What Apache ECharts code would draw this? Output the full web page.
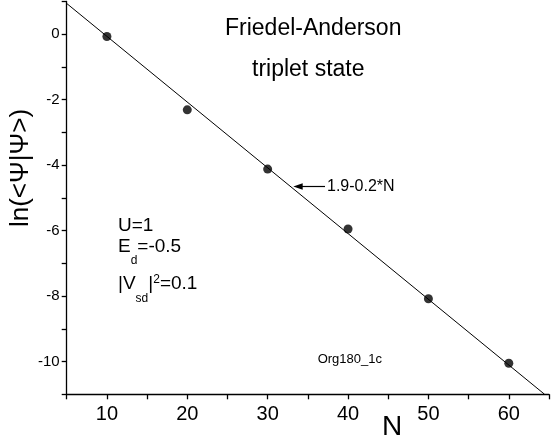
<!DOCTYPE html>
<html>
<head>
<meta charset="utf-8">
<script src="https://cdn.jsdelivr.net/npm/echarts@6/dist/echarts.min.js"></script>
<style>
  html, body { margin: 0; padding: 0; background: #fff; }
  #chart { width: 552px; height: 443px; }
</style>
</head>
<body>
<div id="chart"></div>
<script>
// measured points
const nValues = [10, 20, 30, 40, 50, 60];
const lnPsi = [-0.07, -2.31, -4.12, -5.95, -8.08, -10.05];
// fitted line 1.9-0.2*N, end points
const fitN = [5, 64.45];
const fitLn = [0.94, -11.0];

const FONT = '"Liberation Sans", Arial, sans-serif';

const chart = echarts.init(document.getElementById("chart"), null, { renderer: "canvas" });

const axisLine = { show: true, onZero: false, lineStyle: { color: "#000", width: 1.3 } };
const axisTick = { show: true, inside: false, length: 5, lineStyle: { color: "#000", width: 1.3 } };

const option = {
  backgroundColor: "#fff",
  animation: false,
  grid: { left: 66.7, right: -2.5, top: 1.5, bottom: 48.7 },
  xAxis: {
    type: "value",
    min: 5,
    max: 65,
    interval: 5,
    axisLine: axisLine,
    axisTick: axisTick,
    splitLine: { show: false },
    axisLabel: {
      margin: 10,
      color: "#000",
      fontFamily: FONT,
      fontSize: 20,
      formatter: (v) => (v % 10 === 0 ? String(v) : ""),
    },
  },
  yAxis: {
    type: "value",
    min: -11,
    max: 1,
    interval: 1,
    axisLine: axisLine,
    axisTick: axisTick,
    splitLine: { show: false },
    axisLabel: {
      margin: 7,
      color: "#000",
      fontFamily: FONT,
      fontSize: 15,
      formatter: (v) => (Number.isInteger(v) && v % 2 === 0 ? String(v) : ""),
    },
  },
  series: [
    {
      type: "line",
      data: fitN.map((n, i) => [n, fitLn[i]]),
      symbol: "none",
      lineStyle: { color: "#000", width: 1 },
      z: 2,
    },
    {
      type: "scatter",
      data: nValues.map((n, i) => [n, lnPsi[i]]),
      symbol: "circle",
      symbolSize: 9,
      itemStyle: { color: "#000" },
      z: 3,
    },
  ],
  graphic: [
    {
      type: "text",
      x: 225, y: 28.4,
      style: { text: "Friedel-Anderson", font: "23px " + FONT, fill: "#000", textAlign: "left", textVerticalAlign: "middle" },
    },
    {
      type: "text",
      x: 252, y: 69.7,
      style: { text: "triplet state", font: "23px " + FONT, fill: "#000", textAlign: "left", textVerticalAlign: "middle" },
    },
    {
      type: "text",
      x: 327, y: 186.5,
      style: { text: "1.9-0.2*N", font: "16px " + FONT, fill: "#000", textAlign: "left", textVerticalAlign: "middle" },
    },
    {
      type: "line",
      shape: { x1: 301, y1: 186.5, x2: 325, y2: 186.5 },
      style: { stroke: "#000", lineWidth: 1.2 },
    },
    {
      type: "polygon",
      shape: { points: [[293.3, 186.5], [302.7, 183.3], [302.7, 189.7]] },
      style: { fill: "#000" },
    },
    {
      type: "text",
      x: 118, y: 225.4,
      style: { text: "U=1", font: "19px " + FONT, fill: "#000", textAlign: "left", textVerticalAlign: "middle" },
    },
    {
      type: "text",
      x: 118, y: 246.4,
      style: {
        text: "{m|E}{sub|d}{m|=-0.5}",
        textAlign: "left",
        textVerticalAlign: "middle",
        rich: {
          m: { fontSize: 19, fontFamily: FONT, color: "#000" },
          sub: { fontSize: 12, fontFamily: FONT, color: "#000", padding: [29, 0, 0, 0] },
        },
      },
    },
    {
      type: "text",
      x: 118, y: 283.4,
      style: {
        text: "{m||V}{sub|sd}{m||}{sup|2}{m|=0.1}",
        textAlign: "left",
        textVerticalAlign: "middle",
        rich: {
          m: { fontSize: 19, fontFamily: FONT, color: "#000" },
          sub: { fontSize: 12, fontFamily: FONT, color: "#000", padding: [31, 0, 0, 0] },
          sup: { fontSize: 12, fontFamily: FONT, color: "#000", padding: [0, 0, 8, 0] },
        },
      },
    },
    {
      type: "text",
      x: 382, y: 359,
      style: { text: "Org180_1c", font: "13px " + FONT, fill: "#000", textAlign: "right", textVerticalAlign: "middle" },
    },
    {
      type: "text",
      x: 392, y: 427,
      style: { text: "N", font: "28px " + FONT, fill: "#000", textAlign: "center", textVerticalAlign: "middle" },
    },
    {
      type: "text",
      x: 21, y: 168,
      rotation: Math.PI / 2,
      style: { text: "ln(<Ψ|Ψ>)", font: "26px " + FONT, fill: "#000", textAlign: "center", textVerticalAlign: "middle" },
    },
  ],
};

chart.setOption(option);
</script>
</body>
</html>
